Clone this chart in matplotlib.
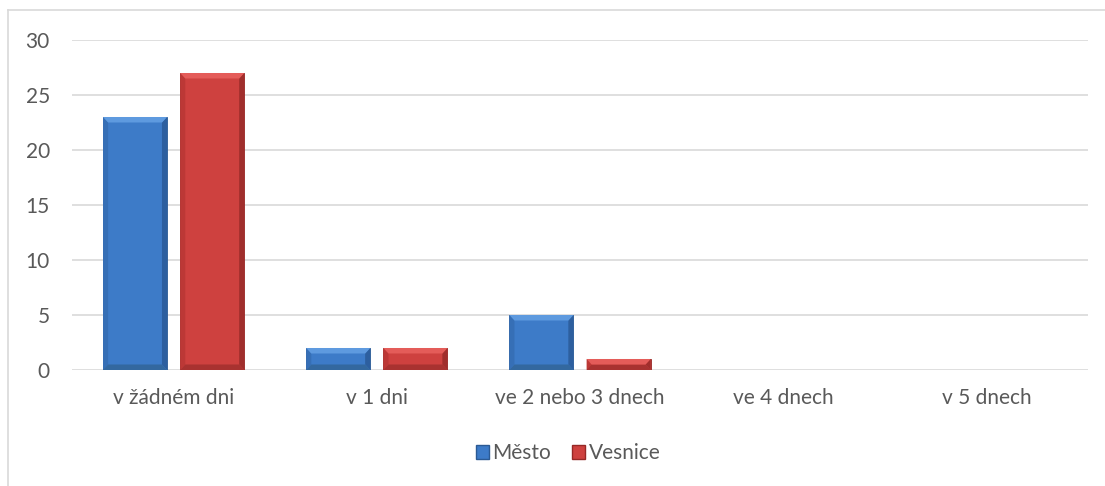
import numpy as np
import matplotlib
matplotlib.use("Agg")
import matplotlib.pyplot as plt
from matplotlib.patches import Polygon, Patch
from matplotlib.lines import Line2D

plt.rcParams['font.family'] = ['Lato', 'DejaVu Sans']

categories = ["v žádném dni", "v 1 dni", "ve 2 nebo 3 dnech", "ve 4 dnech", "v 5 dnech"]
mesto = [23, 2, 5, 0, 0]
vesnice = [27, 2, 1, 0, 0]
series_names = ["Město", "Vesnice"]

blue = dict(face="#3D7BC8", top="#5E9ADF", left="#366FB6", right="#2D5F9F", bottom="#33689F", edge="#2B5A94")
red = dict(face="#CE413F", top="#E45C59", left="#BC3836", right="#A02E2C", bottom="#A83230", edge="#962826")

fig = plt.figure(figsize=(11.05, 4.86), dpi=100)
ax = fig.add_axes([0.0652, 0.2387, 0.9194, 0.679])

x = np.arange(len(categories))
w = 0.315
off = 0.19


def bevel_bars(bars, c):
    bx = 0.025   # bevel in x data units
    for b in bars:
        x0, y0 = b.get_x(), b.get_y()
        bw, bh = b.get_width(), b.get_height()
        if bh <= 0:
            continue
        by = min(0.5, bh / 2)
        x1, y1 = x0 + bw, y0 + bh
        ax.add_patch(Polygon([(x0, y0), (x0, y1), (x0 + bx, y1 - by), (x0 + bx, y0 + by)],
                             closed=True, fc=c["left"], ec="none", zorder=3))
        ax.add_patch(Polygon([(x1, y0), (x1, y1), (x1 - bx, y1 - by), (x1 - bx, y0 + by)],
                             closed=True, fc=c["right"], ec="none", zorder=3))
        ax.add_patch(Polygon([(x0, y0), (x1, y0), (x1 - bx, y0 + by), (x0 + bx, y0 + by)],
                             closed=True, fc=c["bottom"], ec="none", zorder=3))
        ax.add_patch(Polygon([(x0, y1), (x1, y1), (x1 - bx, y1 - by), (x0 + bx, y1 - by)],
                             closed=True, fc=c["top"], ec="none", zorder=3))


b1 = ax.bar(x - off, mesto, w, color=blue["face"], edgecolor=blue["edge"], linewidth=0.6, zorder=2)
b2 = ax.bar(x + off, vesnice, w, color=red["face"], edgecolor=red["edge"], linewidth=0.6, zorder=2)
bevel_bars(b1, blue)
bevel_bars(b2, red)

ax.set_xlim(-0.5, len(categories) - 0.5)
ax.set_ylim(0, 30)
ax.set_yticks(range(0, 31, 5))
ax.set_xticks(x)
ax.set_xticklabels(categories)
ax.grid(axis='y', color='#D9D9D9', linewidth=1.2, zorder=0)
ax.set_axisbelow(True)
for s in ax.spines.values():
    s.set_visible(False)
ax.tick_params(axis='both', length=0, labelsize=15, labelcolor='#595959')
ax.tick_params(axis='y', pad=16)
ax.tick_params(axis='x', pad=13)

# chart area border (top and left visible)
fig.add_artist(Line2D([8 / 1105, 1.0], [1 - 10 / 486, 1 - 10 / 486], color='#D9D9D9', lw=1.2))
fig.add_artist(Line2D([8 / 1105, 8 / 1105], [1 - 10 / 486, 0.0], color='#D9D9D9', lw=1.2))

handles = [Patch(facecolor=blue["face"], edgecolor=blue["edge"]),
           Patch(facecolor=red["face"], edgecolor=red["edge"])]
fig.legend(handles, series_names, loc='center', bbox_to_anchor=(0.514, 1 - 453 / 486), ncol=2,
           frameon=False, fontsize=15, labelcolor='#595959', handlelength=0.65, handleheight=0.65,
           handletextpad=0.15, columnspacing=1.0)

fig.savefig("out.png", dpi=100)
